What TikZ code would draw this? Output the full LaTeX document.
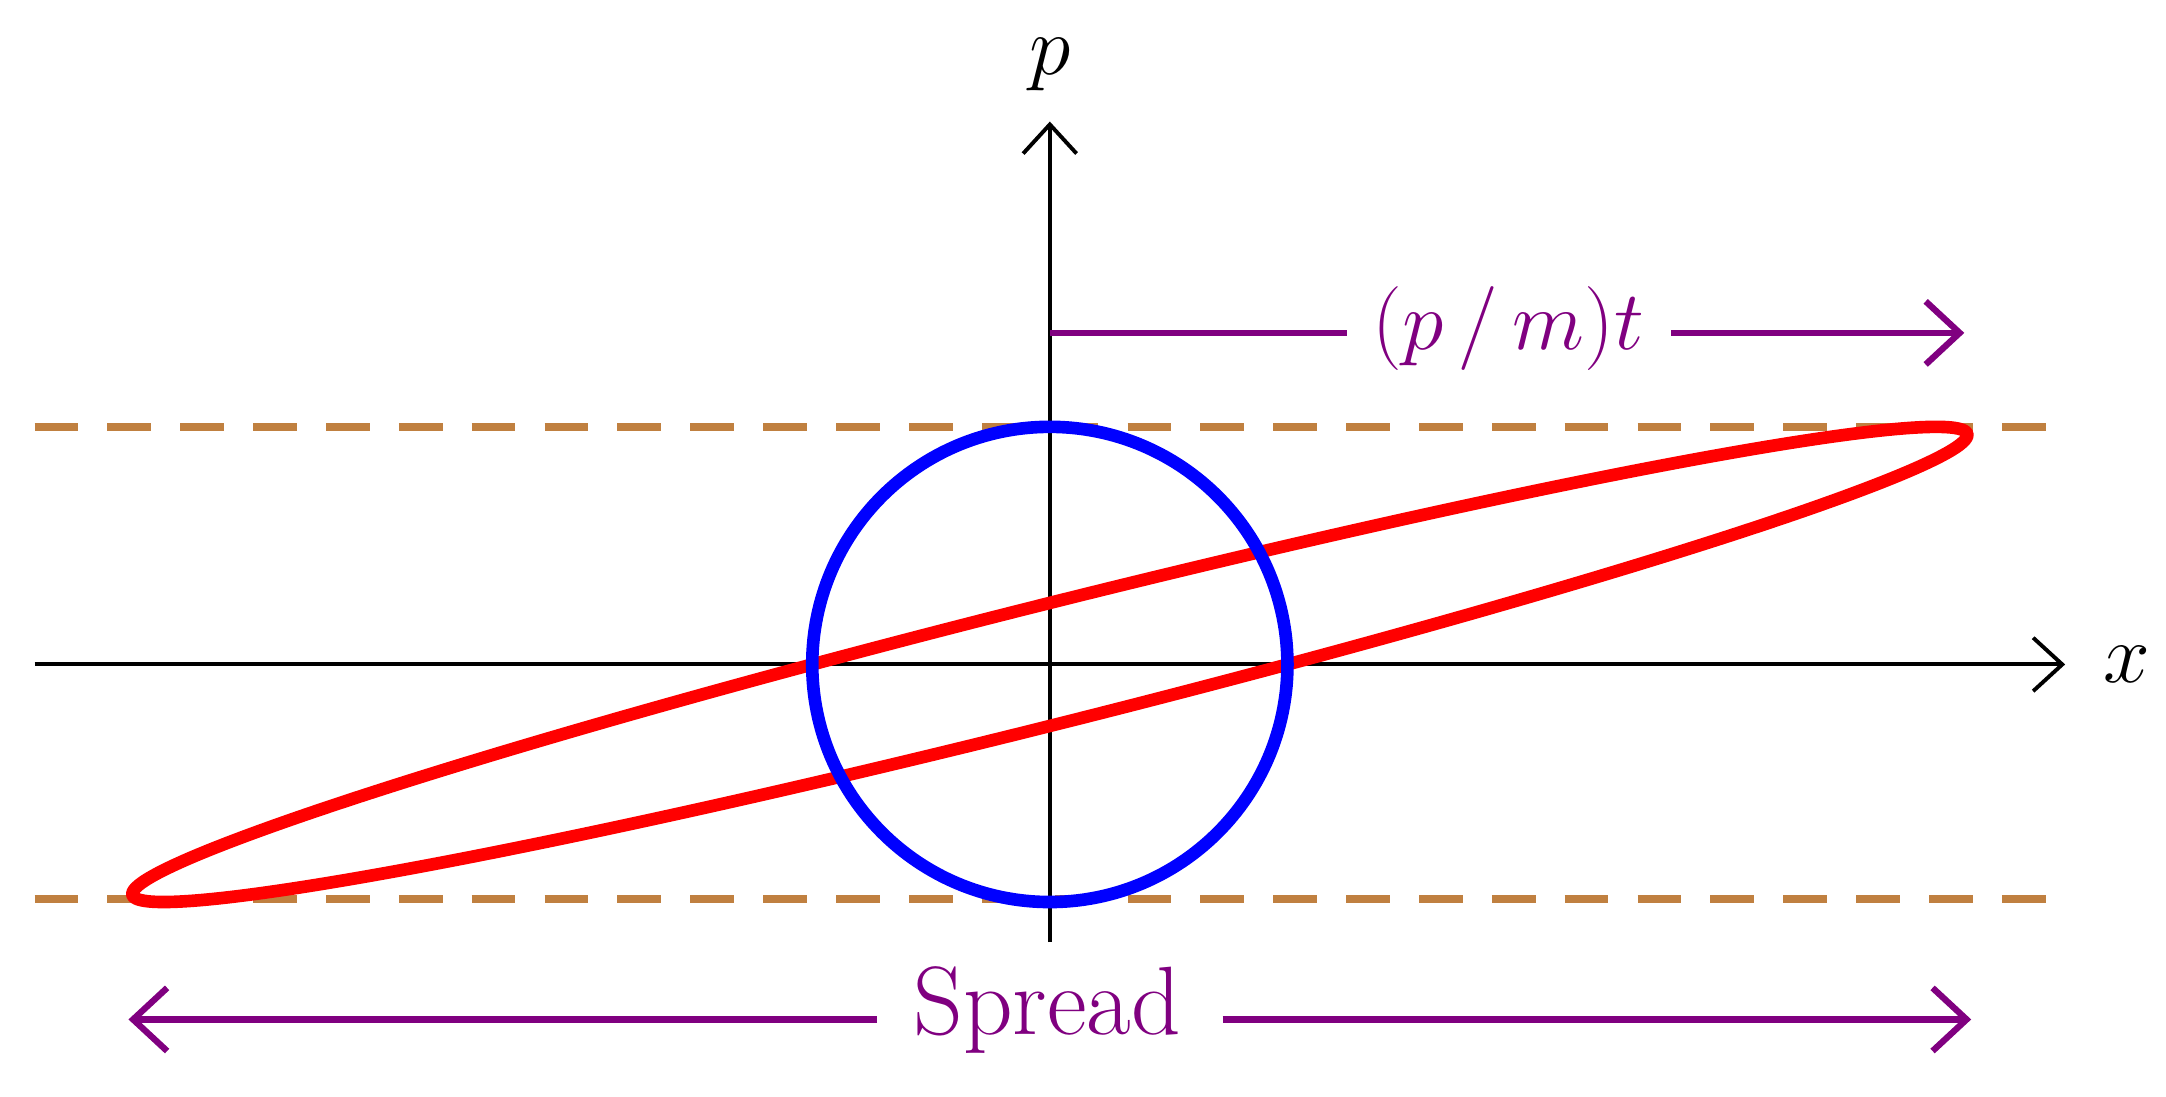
\documentclass[tikz,border=0pt]{standalone}
\usetikzlibrary{arrows.meta}
\definecolor{dashc}{RGB}{192,128,64}
\definecolor{purp}{RGB}{128,0,128}
\tikzset{
  axis/.style={line width=0.8pt,-{Straight Barb[length=6pt,width=11pt,line width=0.8pt]}},
  purparrow/.style={purp,line width=1.3pt},
  ptip/.style={-{Straight Barb[length=7pt,width=13pt,line width=1.3pt]}},
  lbl/.style={font=\fontsize{17}{20}\selectfont},
  dashline/.style={dashc,line width=1.6pt,dash pattern=on 9pt off 6pt},
}
\begin{document}
\begin{tikzpicture}[x=0.01cm,y=-0.01cm]
\useasboundingbox (0,0) rectangle (1568,794);
% dashed lines
\draw[dashline] (25,309) -- (1487,309);
\draw[dashline] (25,651) -- (1487,651);
% axes
\coordinate (xs) at (25,481);
\coordinate (xe) at (1495,481);
\coordinate (ps) at (760,682);
\coordinate (pe) at (760,88);
\draw[axis] (xs) -- (xe);
\draw[axis] (ps) -- (pe);
\node[lbl,anchor=west] (xl) at (1510,481) {$x$};
\node[lbl,anchor=south] (pl) at (760,78) {$p$};
% ellipse
\draw[red,line width=2.6pt,domain=0:360,samples=240,smooth,variable=\t]
  plot ({760+172*cos(\t)+3.73*172*sin(\t)},{481-172*sin(\t)}) -- cycle;
% circle
\draw[blue,line width=2.6pt] (760,481) circle[radius=172];
% (p/m)t arrow
\node[lbl,text=purp] (pm) at (1092,238) {$(p\,/\,m)t$};
\coordinate (pms) at (760,241);
\coordinate (pmend) at (1422,241);
\draw[purparrow] (pms) -- (975,241);
\draw[purparrow,ptip] (1210,241) -- (pmend);
% Spread
\node[lbl,text=purp,font=\fontsize{20}{24}\selectfont] (sp) at (758,731) {Spread};
\coordinate (sl) at (93,738);
\coordinate (sr) at (1427,738);
\coordinate (spl) at (635,738);
\coordinate (spr) at (885,738);
\draw[purparrow,ptip] (spl) -- (sl);
\draw[purparrow,ptip] (spr) -- (sr);
\end{tikzpicture}
\end{document}
